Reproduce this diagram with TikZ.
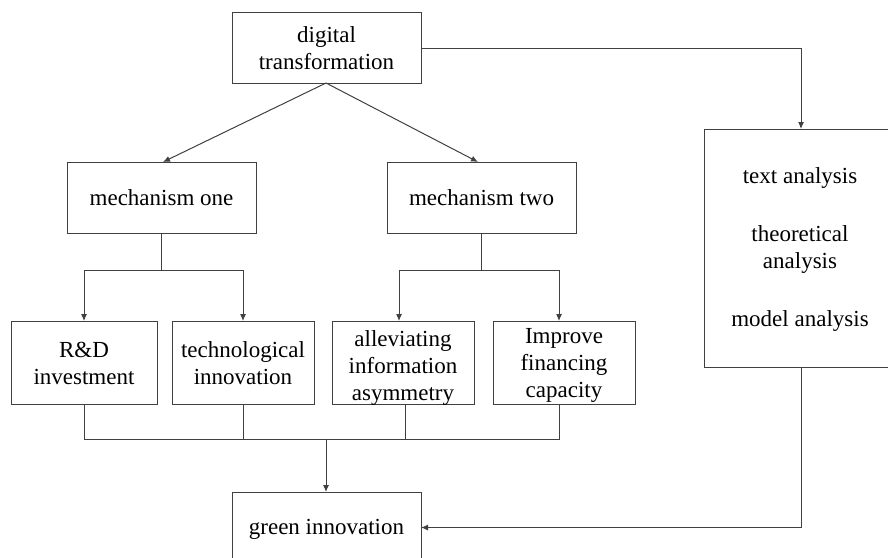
\documentclass[tikz,border=0pt]{standalone}
\usepackage{fontspec}
\setmainfont{Liberation Serif}
\usetikzlibrary{arrows.meta}
\definecolor{ln}{HTML}{404040}
\tikzset{
  box/.style={draw=ln, line width=1pt, fill=none},
  txt/.style={font=\fontsize{23}{27}\selectfont, align=center, inner sep=0pt},
  conn/.style={draw=ln, line width=1pt},
  arr/.style={conn, -{Latex[length=7pt,width=6pt]}, shorten >=0pt}
}
\begin{document}
\begin{tikzpicture}[x=1pt,y=-1pt]
\useasboundingbox (0,0) rectangle (888,557);
% boxes
\draw[box] (232,12) rectangle (421,83);
\node[txt] (dt) at (326.5,48) {digital\\transformation};
\coordinate (dtS) at (326,83);
\coordinate (dtE) at (421,48);

\draw[box] (67,162) rectangle (256,233);
\node[txt] (m1) at (161.5,198) {mechanism one};
\coordinate (m1N) at (163,162);
\coordinate (m1S) at (161,233);

\draw[box] (387,162) rectangle (576,233);
\node[txt] (m2) at (481.5,198) {mechanism two};
\coordinate (m2N) at (478,162);
\coordinate (m2S) at (481,233);

\draw[box] (11,321) rectangle (157,404);
\node[txt] (rd) at (84,363) {R\&D\\investment};
\draw[box] (172,321) rectangle (314,404);
\node[txt] (ti) at (243,363) {technological\\innovation};
\draw[box] (332,321) rectangle (474,404);
\node[txt] (ai) at (403,368) {alleviating\\information\\asymmetry};
\draw[box] (493,321) rectangle (635,404);
\node[txt] (ifc) at (564,365.5) {Improve\\financing\\capacity};

\draw[box] (232,492) rectangle (421,575);
\node[txt] (gi) at (326.5,529) {green innovation};

\draw[box] (704,129) rectangle (895,367);
\node[txt] (ta) at (800,178) {text analysis};
\node[txt] (th) at (800,249) {theoretical\\analysis};
\node[txt] (ma) at (800,321) {model analysis};

% connectors
\draw[arr] (dtS) -- (m1N);
\draw[arr] (dtS) -- (m2N);

\coordinate (j1) at (161,270);
\coordinate (j1a) at (84,270);
\coordinate (j1b) at (243,270);
\draw[conn] (m1S) -- (j1);
\draw[conn] (j1a) -- (j1b);
\draw[arr] (j1a) -- (84,321);
\draw[arr] (j1b) -- (243,321);

\coordinate (j2) at (481,270);
\coordinate (j2a) at (399,270);
\coordinate (j2b) at (559,270);
\draw[conn] (m2S) -- (j2);
\draw[conn] (j2a) -- (j2b);
\draw[arr] (j2a) -- (399,321);
\draw[arr] (j2b) -- (559,321);

\coordinate (b1) at (84,439);
\coordinate (b4) at (559,439);
\draw[conn] (84,404) -- (b1) -- (b4) -- (559,404);
\draw[conn] (243,404) -- (243,439);
\draw[conn] (405.5,404) -- (405.5,439);
\draw[arr] (326,439) -- (326,492);

\coordinate (r1) at (801,48);
\draw[arr] (dtE) -- (r1) -- (801,129);
\coordinate (r2) at (801,527.5);
\draw[arr] (801,367) -- (r2) -- (421,527.5);
\end{tikzpicture}
\end{document}
